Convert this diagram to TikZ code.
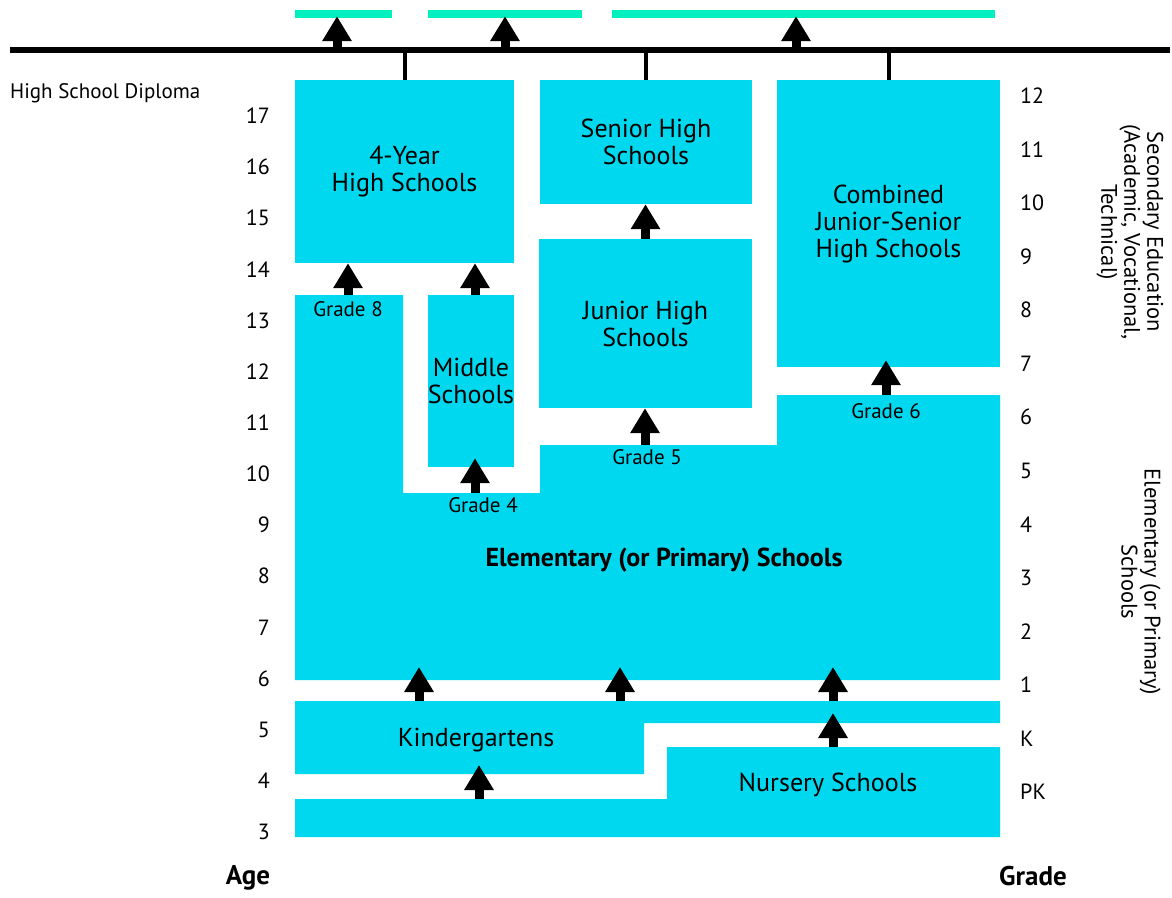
\documentclass[tikz,border=0pt]{standalone}
\usepackage{fontspec}
\setmainfont{PT Sans}
\usetikzlibrary{arrows.meta}

\definecolor{school}{RGB}{0,216,240}
\definecolor{diploma}{RGB}{0,240,192}
\newcommand{\schoolfont}{\fontsize{26}{27}\selectfont}
\newcommand{\numfont}{\fontsize{22}{24}\selectfont}
\newcommand{\titlefont}{\fontsize{27}{29}\selectfont\bfseries}
\newcommand{\gradefont}{\fontsize{21}{23}\selectfont}
\newcommand{\sidefont}{\fontsize{22.5}{23}\selectfont}

\tikzset{
  schoolbox/.style={fill=school,inner sep=0pt,align=center,font=\schoolfont},
  diplomabar/.style={fill=diploma,inner sep=0pt,minimum height=8pt},
  uparrow/.style={line width=9pt,-{Triangle[width=28pt,length=25pt]}},
  gradelabel/.style={font=\gradefont,inner sep=0pt},
}

\begin{document}
\begin{tikzpicture}[x=1pt,y=-1pt]
\useasboundingbox (0,0) rectangle (1172,897);

% diploma line and bars
\coordinate (lineL) at (10,50);
\coordinate (lineR) at (1170,50);
\draw[line width=6pt] (lineL) -- (lineR);
\node[diplomabar,minimum width=97pt] (dip1) at (343.5,14) {};
\node[diplomabar,minimum width=154pt] (dip2) at (505,14) {};
\node[diplomabar,minimum width=383pt] (dip3) at (803.5,14) {};
\draw[uparrow,shorten >=-2pt] (lineL -| 337,0) -- (dip1.south -| 337,0);
\draw[uparrow,shorten >=-2pt] (lineL -| dip2.south) -- (dip2.south);
\draw[uparrow,shorten >=-2pt] (lineL -| 796,0) -- (dip3.south -| 796,0);
\node[font=\gradefont,anchor=west,inner sep=0pt] (diploma) at (10,93) {High School Diploma};

% secondary schools
\node[schoolbox,minimum width=219pt,minimum height=183pt] (hs4) at (404.5,171.5) {4-Year\\High Schools};
\node[schoolbox,minimum width=212pt,minimum height=124pt] (shs) at (646,142) {Senior High\\Schools};
\node[schoolbox,minimum width=223pt,minimum height=287pt] (comb) at (888.5,223.5) {Combined\\Junior-Senior\\High Schools};
\node[schoolbox,minimum width=213pt,minimum height=169pt] (jhs) at (645.5,323.5) {Junior High\\Schools};
\node[schoolbox,minimum width=86pt,minimum height=172pt] (mid) at (471,381) {Middle\\Schools};
\foreach \n in {hs4,shs,comb}
  \draw[line width=4pt] (\n.north) -- (\n.north |- lineL);

% elementary
\fill[school] (295,295) -- (403,295) -- (403,493) -- (540,493) -- (540,445)
  -- (777,445) -- (777,395) -- (1000,395) -- (1000,680) -- (295,680) -- cycle;
\node[font=\schoolfont\bfseries] (elem) at (664,560) {Elementary (or Primary) Schools};
\coordinate (elemS) at (295,680);

% kindergartens and nursery schools
\fill[school] (295,701) -- (1000,701) -- (1000,723) -- (644,723) -- (644,774) -- (295,774) -- cycle;
\node[font=\schoolfont] (kg) at (476,740) {Kindergartens};
\coordinate (kgN) at (295,701);
\coordinate (kgS) at (295,774);
\coordinate (kgR) at (1000,723);
\fill[school] (667,747) -- (1000,747) -- (1000,837) -- (295,837) -- (295,799) -- (667,799) -- cycle;
\node[font=\schoolfont] (ns) at (828,785) {Nursery Schools};
\coordinate (nsN) at (1000,747);
\coordinate (nsL) at (295,799);

% arrows between levels
\coordinate (g8) at (348,295);
\coordinate (g4) at (475,493);
\coordinate (g5) at (645,445);
\coordinate (g6) at (886,395);
\draw[uparrow] (g8) -- (g8 |- hs4.south);
\draw[uparrow] (mid.north -| g4) -- (g4 |- hs4.south);
\draw[uparrow,shorten >=-9pt] (g4) -- (g4 |- mid.south);
\draw[uparrow] (jhs.north) -- (jhs.north |- shs.south);
\draw[uparrow] (g5) -- (g5 |- jhs.south);
\draw[uparrow,shorten >=-7pt] (g6) -- (g6 |- comb.south);
\node[gradelabel,below=6pt] at (g8) {Grade 8};
\node[gradelabel,below=4pt] at (g4 -| 483,0) {Grade 4};
\node[gradelabel,below=4pt] at (g5 -| 647,0) {Grade 5};
\node[gradelabel,below=8pt] at (g6) {Grade 6};
\foreach \x in {419,620,833}
  \draw[uparrow,shorten >=-13pt] (kgN -| \x,0) -- (elemS -| \x,0);
\draw[uparrow,shorten >=-10pt] (nsN -| 833,0) -- (kgR -| 833,0);
\draw[uparrow,shorten >=-9pt] (nsL -| 479,0) -- (kgS -| 479,0);

% ages
\foreach \a [count=\i from 0] in {17,16,...,3}
  \node[font=\numfont,anchor=east,inner sep=0pt] (age\a) at (270,116+51.14*\i) {\a};
\node[font=\titlefont] (agetitle) at (248,878) {Age};

% grades
\foreach \g [count=\i from 0] in {12,11,10,9,8,7,6,5,4,3,2,1,K,PK}
  \node[font=\numfont,anchor=west,inner sep=0pt] (grade\i) at (1020,96+53.54*\i) {\g};
\node[font=\titlefont] (gradetitle) at (1033,876) {Grade};

% side captions
\node[font=\sidefont,rotate=-90,align=center] (secondary) at (1130,232) {Secondary Education\\(Academic, Vocational,\\Technical)};
\node[font=\sidefont,rotate=-90,align=center] (elementary) at (1141,582) {Elementary (or Primary)\\Schools};
\end{tikzpicture}
\end{document}
